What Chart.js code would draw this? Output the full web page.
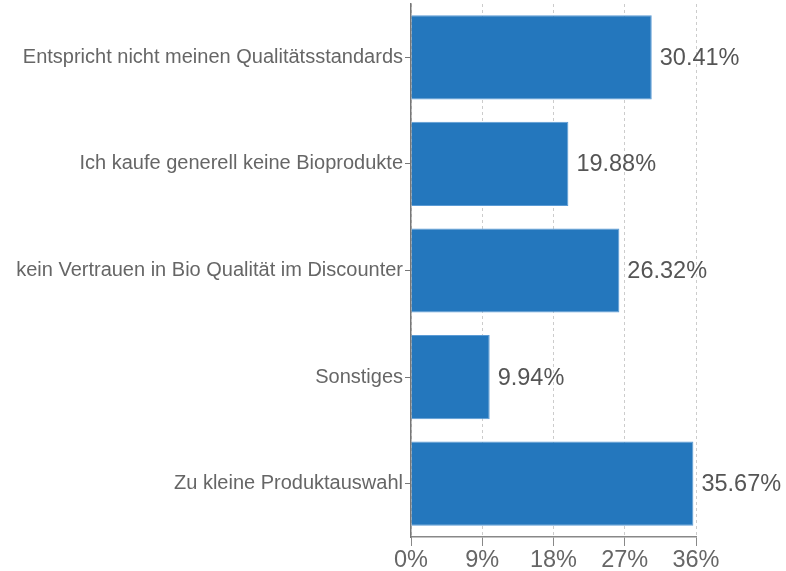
<!DOCTYPE html>
<html>
<head>
<meta charset="utf-8">
<style>
  html, body { margin: 0; padding: 0; background: #fff; }
  #wrap { width: 786px; height: 571px; }
</style>
<script src="https://cdn.jsdelivr.net/npm/chart.js@4/dist/chart.umd.min.js"></script>
</head>
<body>
<div id="wrap"><canvas id="chart" width="786" height="571"></canvas></div>
<script>
// Data
const reasons = [
    'Entspricht nicht meinen Qualitätsstandards',
    'Ich kaufe generell keine Bioprodukte',
    'kein Vertrauen in Bio Qualität im Discounter',
    'Sonstiges',
    'Zu kleine Produktauswahl'
];
const shares = [30.41, 19.88, 26.32, 9.94, 35.67];
const xTicks = [0, 9, 18, 27, 36];

const FONT = "'Liberation Sans', Arial, Helvetica, sans-serif";

// value labels at bar ends
const valueLabels = {
    id: 'valueLabels',
    afterDatasetsDraw(chart) {
        const ctx = chart.ctx;
        const meta = chart.getDatasetMeta(0);
        ctx.save();
        ctx.font = `23.5px ${FONT}`;
        ctx.fillStyle = '#555';
        ctx.textAlign = 'left';
        ctx.textBaseline = 'middle';
        meta.data.forEach((bar, i) => {
            ctx.fillText(shares[i].toFixed(2) + '%', bar.x + 8, bar.y + 1);
        });
        ctx.restore();
    }
};

new Chart(document.getElementById('chart'), {
    type: 'bar',
    data: {
        labels: reasons,
        datasets: [{
            data: shares,
            backgroundColor: '#2477bd',
            borderColor: '#5b9bd5',
            borderWidth: 1,
            categoryPercentage: 1,
            barPercentage: 0.79
        }]
    },
    options: {
        indexAxis: 'y',
        responsive: false,
        animation: false,
        layout: { padding: { top: 4, right: 90, left: 0, bottom: 0 } },
        plugins: {
            legend: { display: false },
            tooltip: { enabled: false }
        },
        scales: {
            x: {
                min: 0,
                max: 36,
                afterBuildTicks: (s) => { s.ticks = xTicks.map(v => ({ value: v })); },
                afterFit: (s) => { s.height = 34; s.paddingLeft = 0; s.paddingRight = 0; },
                ticks: {
                    color: '#666',
                    font: { family: FONT, size: 23.5 },
                    padding: 0,
                    callback: v => v + '%'
                },
                grid: {
                    color: '#cccccc',
                    tickColor: '#888',
                    tickLength: 9,
                    drawTicks: true
                },
                border: { color: '#888', width: 1.5, dash: [3, 3] }
            },
            y: {
                afterFit: (s) => { s.width = 411; s.paddingTop = 0; s.paddingBottom = 0; },
                ticks: {
                    color: '#666',
                    font: { family: FONT, size: 20 },
                    padding: 2
                },
                grid: {
                    offset: false,
                    drawOnChartArea: false,
                    color: '#777',
                    tickLength: 6
                },
                border: { color: '#777', width: 1.5 }
            }
        }
    },
    plugins: [valueLabels]
});
</script>
</body>
</html>
